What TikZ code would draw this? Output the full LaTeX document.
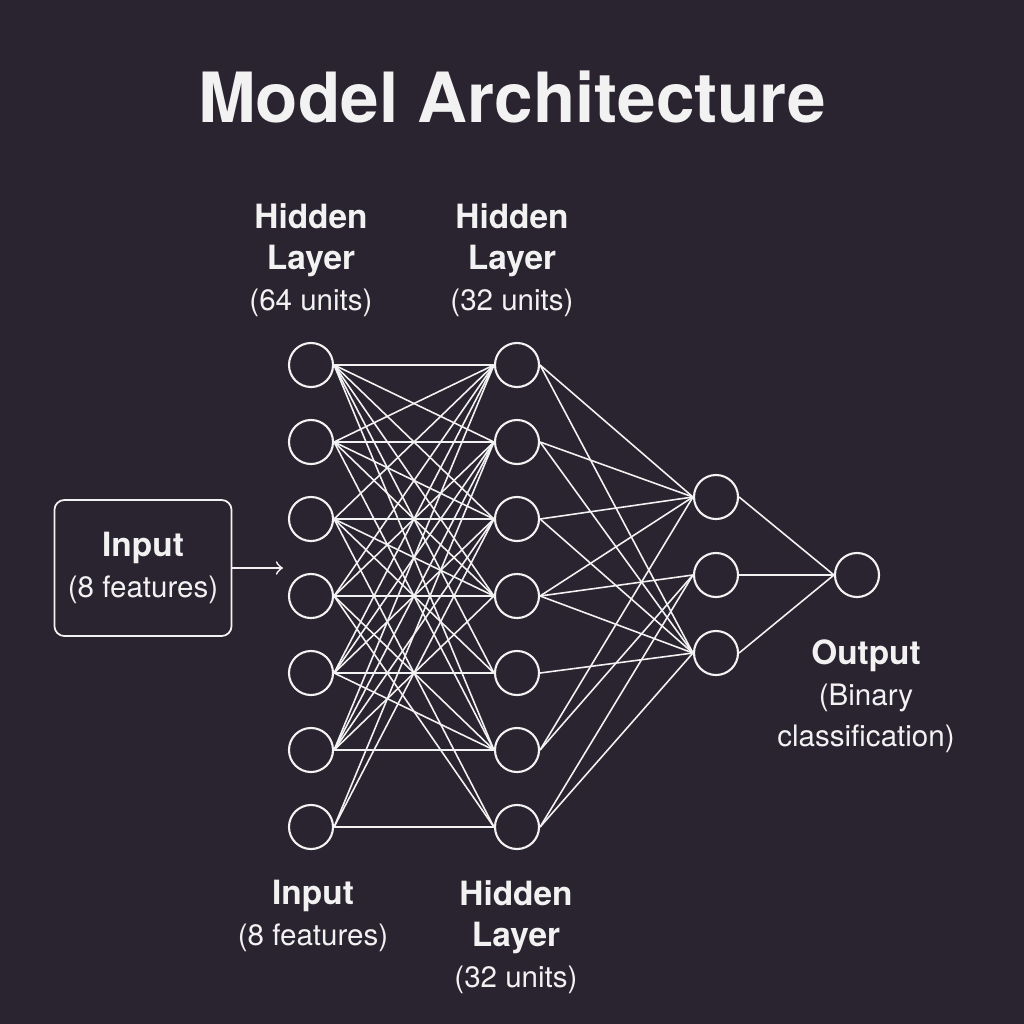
\documentclass[tikz,border=0pt]{standalone}
\usepackage{fontspec}
\setmainfont{TeX Gyre Heros}
\usetikzlibrary{arrows}
\definecolor{bg}{HTML}{2A2430}
\definecolor{ink}{HTML}{F2F2F2}
\newcommand\headtxt[1]{{\bfseries\fontsize{9.5}{11.7}\selectfont #1}}

\begin{document}
\begin{tikzpicture}
  [x=0.01cm,y=-0.01cm,
   neuron/.style={circle,draw=ink,line width=0.6pt,minimum size=0.44cm,inner sep=0pt},
   wire/.style={draw=ink,line width=0.45pt},
   lbl/.style={text=ink,align=center,font=\fontsize{8.4}{11.7}\selectfont}]
  \fill[bg] (0,0) rectangle (1024,1024);
  \useasboundingbox (0,0) rectangle (1024,1024);

  \node[text=ink,font=\bfseries\fontsize{19.7}{23}\selectfont] (title) at (512,97) {Model Architecture};

  \foreach \i/\y in {1/365,2/442,3/519,4/596,5/673,6/750,7/827}
  {
    \node[neuron] (a\i) at (311,\y) {};
    \node[neuron] (b\i) at (517,\y) {};
  }
  \node[neuron] (c1) at (716,497) {};
  \node[neuron] (c2) at (716,575) {};
  \node[neuron] (c3) at (716,653) {};
  \node[neuron] (out) at (857,575) {};

  \node[lbl,draw=ink,line width=0.5pt,rounded corners=0.1cm,minimum width=1.77cm,minimum height=1.36cm] (inp) at (143,568) {\headtxt{Input}\\(8 features)};
  \coordinate (tip) at (283,568);
  \draw[ink,line width=0.5pt,->] (inp) -- (tip);

\foreach \from/\to in
{a1/b1, a1/b2, a1/b3, a1/b4, a1/b5, a1/b6,
 a2/b1, a2/b2, a2/b3, a2/b4, a2/b6,
 a3/b1, a3/b3, a3/b4, a3/b5, a3/b7,
 a4/b1, a4/b2, a4/b4, a4/b6, a4/b7,
 a5/b1, a5/b2, a5/b3, a5/b5, a5/b6,
 a6/b1, a6/b2, a6/b3, a6/b4, a6/b6,
 a7/b2, a7/b3, a7/b7,
 b1/c1, b1/c3, b2/c1, b2/c3, b3/c1, b3/c3,
 b4/c1, b4/c2, b4/c3, b5/c3, b6/c1, b6/c2,
 b7/c2, b7/c3,
 c1/out, c2/out, c3/out}
    \draw[wire] (\from.east) -- (\to.west);

  \node[lbl] (top1) at (311,260) {\headtxt{Hidden}\\\headtxt{Layer}\\(64 units)};
  \node[lbl] (top2) at (512,260) {\headtxt{Hidden}\\\headtxt{Layer}\\(32 units)};
  \node[lbl] (bot1) at (313,916) {\headtxt{Input}\\(8 features)};
  \node[lbl] (bot2) at (516,937) {\headtxt{Hidden}\\\headtxt{Layer}\\(32 units)};
  \node[lbl] (outlbl) at (866,696) {\headtxt{Output}\\(Binary\\classification)};
\end{tikzpicture}
\end{document}
